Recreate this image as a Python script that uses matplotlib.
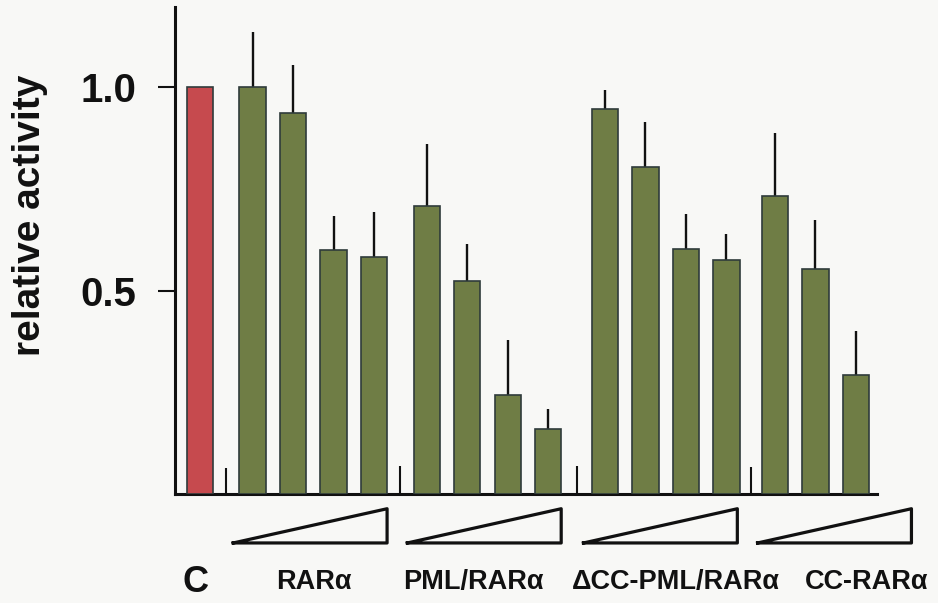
import matplotlib
matplotlib.use('Agg')
import matplotlib.pyplot as plt
import numpy as np

# values
group_names = ['RARα', 'PML/RARα', 'ΔCC-PML/RARα', 'CC-RARα']
control_value = 1.0
rar = [1.00, 0.937, 0.599, 0.583]
rar_err = [0.136, 0.118, 0.085, 0.109]
pml_rar = [0.707, 0.525, 0.244, 0.160]
pml_rar_err = [0.153, 0.090, 0.136, 0.050]
dcc_pml_rar = [0.945, 0.804, 0.603, 0.576]
dcc_pml_rar_err = [0.047, 0.110, 0.085, 0.063]
cc_rar = [0.733, 0.554, 0.294]
cc_rar_err = [0.154, 0.120, 0.108]
# empty-vector lanes: no bar, only a short error line
vector_err = [0.065, 0.070, 0.070, 0.067]

groups = [rar, pml_rar, dcc_pml_rar, cc_rar]
group_errs = [rar_err, pml_rar_err, dcc_pml_rar_err, cc_rar_err]

plt.rcParams['font.family'] = ['Liberation Sans', 'DejaVu Sans']

fig = plt.figure(figsize=(9.38, 6.03), dpi=100)
bg = '#f8f8f6'
fig.patch.set_facecolor(bg)
ax = fig.add_axes([0.1866, 0.18, 0.7484, 0.8076])
ax.set_facecolor(bg)

red = '#c64a4e'
green = '#6f7d45'
edge = '#2f3b3b'
width = 0.65

# layout: control bar at 0, each group after a gap
gaps = [1.3, 1.3, 1.4, 1.2]
xs_all, vals_all, errs_all = [], [], []
vec_x = []
tri_x = []
prev = 0.0
for g, vals, errs in zip(gaps, groups, group_errs):
    first = prev + g
    vec_x.append((prev + first) / 2)
    tri_x.append((prev + first) / 2 + 0.17)
    xs = [first + i for i in range(len(vals))]
    xs_all += xs
    vals_all += vals
    errs_all += errs
    prev = xs[-1]

ax.bar([0], [control_value], width=width, color=red, edgecolor=edge, linewidth=1.2, zorder=3)
ax.bar(xs_all, vals_all, width=width, color=green, edgecolor=edge, linewidth=1.2, zorder=3)
ax.errorbar(xs_all, vals_all, yerr=[np.zeros(len(errs_all)), errs_all], fmt='none',
            ecolor='#111111', elinewidth=1.7, capsize=0, zorder=2)
ax.vlines(vec_x, 0, vector_err, color='#111111', linewidth=1.5, zorder=2)

# concentration wedges under each group
tri_w = 3.8
y_bot, y_top = -0.119, -0.035
for x0 in tri_x:
    ax.plot([x0, x0 + tri_w, x0 + tri_w, x0], [y_bot, y_bot, y_top, y_bot],
            color='#111111', linewidth=2.3, clip_on=False, solid_joinstyle='round')

ax.set_xlim(-0.617, 16.72)
ax.set_ylim(0, 1.195)
for s in ['top', 'right']:
    ax.spines[s].set_visible(False)
for s in ['left', 'bottom']:
    ax.spines[s].set_linewidth(2.2)
    ax.spines[s].set_color('#111111')

ax.set_xticks([])
ax.set_yticks([0.5, 1.0])
ax.set_yticklabels(['0.5', '1.0'])
ax.tick_params(axis='y', direction='out', length=12, width=1.5, pad=16,
               labelsize=29, colors='#111111')
for lab in ax.get_yticklabels():
    lab.set_fontweight('bold')

fig.text(0.032, 0.643, 'relative activity', rotation=90, ha='center', va='center',
         fontsize=28, fontweight='bold', color='#111111')

# x labels
label_y = -0.215
ax.text(-0.12, label_y, 'C', ha='center', va='center', fontsize=26,
        fontweight='bold', color='#111111', clip_on=False)
label_x = [2.81, 6.74, 11.75, 16.47]
for x, name in zip(label_x, group_names):
    ax.text(x, label_y, name, ha='center', va='center', fontsize=19.5,
            fontweight='bold', color='#111111', clip_on=False)

fig.savefig('out.png', dpi=100, facecolor=bg)
